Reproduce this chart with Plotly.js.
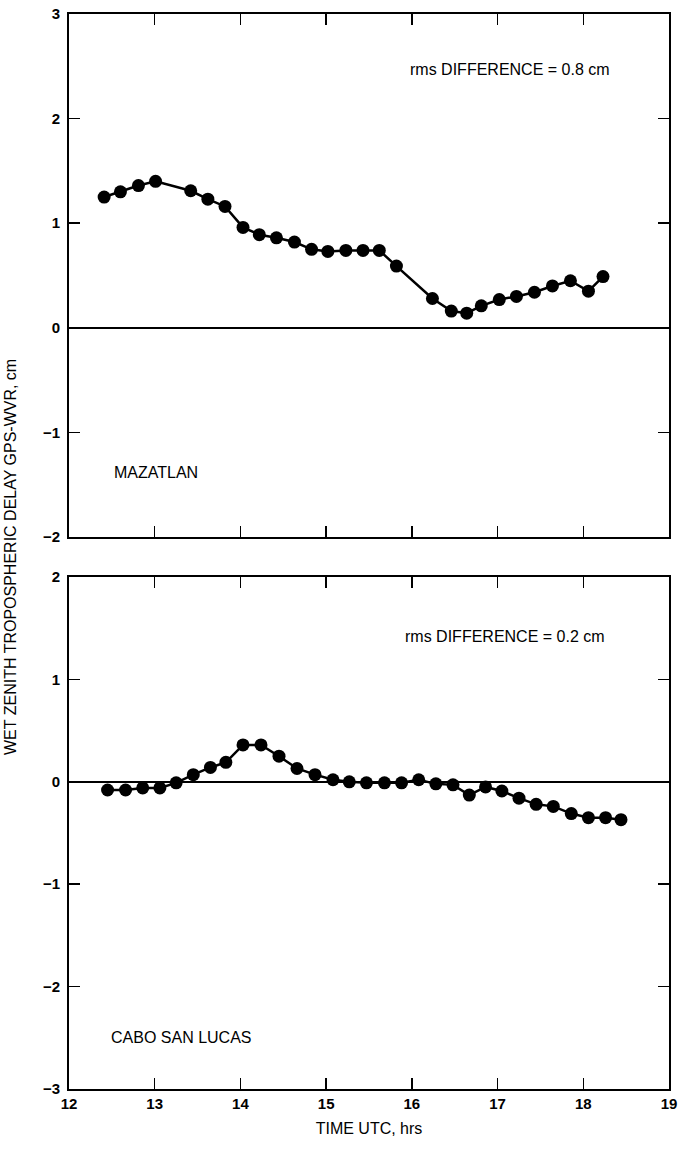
<!DOCTYPE html>
<html>
<head>
<meta charset="utf-8">
<script src="https://cdn.plot.ly/plotly-3.0.1.min.js"></script>
<style>
html,body{margin:0;padding:0;background:#fff;}
#chart{width:679px;height:1150px;}
</style>
</head>
<body>
<div id="chart"></div>
<script>
// Mazatlan: GPS - WVR wet zenith tropospheric delay difference (cm)
const mazatlanTime = [12.41, 12.60, 12.81, 13.01, 13.42, 13.62, 13.82, 14.03, 14.22, 14.42, 14.63, 14.83, 15.02, 15.23, 15.43, 15.62, 15.82, 16.24, 16.46, 16.64, 16.81, 17.02, 17.22, 17.43, 17.64, 17.85, 18.06, 18.23];
const mazatlanDiff = [1.25, 1.30, 1.36, 1.40, 1.31, 1.23, 1.16, 0.96, 0.89, 0.86, 0.82, 0.75, 0.73, 0.74, 0.74, 0.74, 0.59, 0.28, 0.16, 0.14, 0.21, 0.27, 0.30, 0.34, 0.40, 0.45, 0.35, 0.49];

// Cabo San Lucas
const caboTime = [12.45, 12.66, 12.86, 13.06, 13.25, 13.45, 13.65, 13.83, 14.03, 14.24, 14.45, 14.66, 14.87, 15.08, 15.27, 15.47, 15.68, 15.88, 16.08, 16.28, 16.48, 16.67, 16.86, 17.05, 17.25, 17.45, 17.65, 17.86, 18.06, 18.26, 18.44];
const caboDiff = [-0.08, -0.08, -0.06, -0.06, -0.01, 0.07, 0.14, 0.19, 0.36, 0.36, 0.25, 0.13, 0.07, 0.02, 0.00, -0.01, -0.01, -0.01, 0.02, -0.02, -0.03, -0.13, -0.05, -0.09, -0.16, -0.22, -0.24, -0.31, -0.35, -0.35, -0.37];

const xTicks = [12, 13, 14, 15, 16, 17, 18, 19];
const yTicksTop = [-2, -1, 0, 1, 2, 3];
const yTicksBottom = [-3, -2, -1, 0, 1, 2];

const W = 679, H = 1150;
const px = v => v / W;
const py = v => 1 - v / H;

const fontFam = '"Liberation Sans", Arial, sans-serif';
const tickFont = {family: fontFam, size: 15, color: '#000', weight: 'bold'};
const textFont = {family: fontFam, size: 16, color: '#000'};

const marker = {size: 13, color: '#000', symbol: 'circle'};
const line = {color: '#000', width: 2.5};

const traces = [
  {x: mazatlanTime, y: mazatlanDiff, type: 'scatter', mode: 'lines+markers', marker: marker, line: line, xaxis: 'x', yaxis: 'y', hoverinfo: 'skip'},
  {x: caboTime, y: caboDiff, type: 'scatter', mode: 'lines+markers', marker: marker, line: line, xaxis: 'x2', yaxis: 'y2', hoverinfo: 'skip'}
];

const xCommon = {
  range: [12, 19], tickvals: xTicks, ticks: 'inside', ticklen: 11, tickwidth: 1.5, tickcolor: '#000',
  showline: true, linecolor: '#000', linewidth: 2, mirror: 'ticks', showgrid: false, zeroline: false,
  domain: [px(69), px(669)], fixedrange: true, automargin: false, tickfont: tickFont,
  ticklabeloverflow: 'allow'
};
const yCommon = {
  ticks: 'inside', ticklen: 11, tickwidth: 1.5, tickcolor: '#000',
  showline: true, linecolor: '#000', linewidth: 2, mirror: 'ticks', showgrid: false,
  zeroline: true, zerolinecolor: '#000', zerolinewidth: 1.5,
  fixedrange: true, automargin: false, tickfont: tickFont, ticklabelstandoff: 4
};

const layout = {
  width: W, height: H,
  margin: {l: 0, r: 0, t: 0, b: 0},
  paper_bgcolor: '#fff', plot_bgcolor: '#fff',
  showlegend: false,
  font: {family: fontFam, color: '#000'},
  xaxis: Object.assign({}, xCommon, {anchor: 'y', showticklabels: false}),
  yaxis: Object.assign({}, yCommon, {anchor: 'x', range: [-2, 3], tickvals: yTicksTop, domain: [py(537), py(14)]}),
  xaxis2: Object.assign({}, xCommon, {anchor: 'y2', showticklabels: true,
    title: {text: 'TIME UTC, hrs', font: textFont, standoff: 12}}),
  yaxis2: Object.assign({}, yCommon, {anchor: 'x2', range: [-3, 2], tickvals: yTicksBottom, domain: [py(1089), py(577)]}),
  annotations: [
    {xref: 'paper', yref: 'paper', x: px(10), y: py(557), text: 'WET ZENITH TROPOSPHERIC DELAY GPS-WVR, cm', textangle: -90, showarrow: false, font: textFont, xanchor: 'center', yanchor: 'middle'},
    {xref: 'x', yref: 'y', x: 15.95, y: 2.47, text: 'rms DIFFERENCE = 0.8 cm', showarrow: false, xanchor: 'left', font: textFont},
    {xref: 'x', yref: 'y', x: 12.5, y: -1.38, text: 'MAZATLAN', showarrow: false, xanchor: 'left', font: textFont},
    {xref: 'x2', yref: 'y2', x: 15.9, y: 1.42, text: 'rms DIFFERENCE = 0.2 cm', showarrow: false, xanchor: 'left', font: textFont},
    {xref: 'x2', yref: 'y2', x: 12.47, y: -2.5, text: 'CABO SAN LUCAS', showarrow: false, xanchor: 'left', font: textFont}
  ]
};

Plotly.newPlot('chart', traces, layout, {staticPlot: true, displayModeBar: false});
</script>
</body>
</html>
